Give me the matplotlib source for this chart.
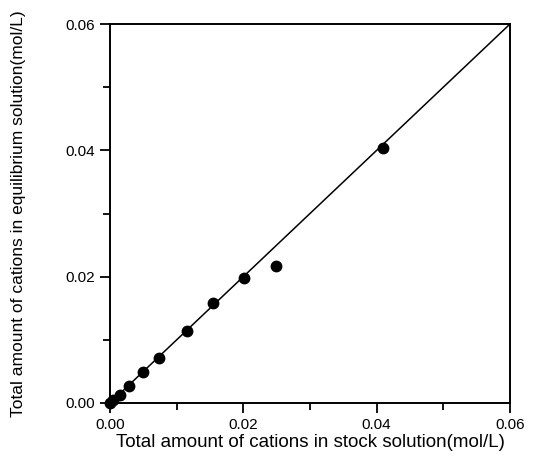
import numpy as np
import matplotlib
matplotlib.use('Agg')
import matplotlib.pyplot as plt
from matplotlib.ticker import MultipleLocator, FormatStrFormatter

# --- DATA ---
stock_conc = [0.0, 0.0005, 0.0015, 0.0028, 0.0050, 0.0074, 0.0116, 0.0155, 0.0201, 0.0249, 0.0410]
equil_conc = [0.0, 0.0005, 0.0013, 0.0027, 0.0049, 0.0072, 0.0114, 0.0159, 0.0198, 0.0217, 0.0403]
fit_x = [0.0, 0.06]
fit_y = [0.0, 0.06]

plt.rcParams['font.family'] = ['Liberation Sans', 'DejaVu Sans']

fig = plt.figure(figsize=(5.33, 4.62), dpi=100)
ax = fig.add_axes([110 / 533, 1 - 403 / 462, 400 / 533, 379 / 462])

ax.plot(fit_x, fit_y, color='black', linewidth=1.1, zorder=2)
ax.plot(stock_conc, equil_conc, 'o', color='black', markersize=7.5, zorder=3, clip_on=False)

ax.set_xlim(0, 0.06)
ax.set_ylim(0, 0.06)
ax.xaxis.set_major_locator(MultipleLocator(0.02))
ax.yaxis.set_major_locator(MultipleLocator(0.02))
ax.xaxis.set_minor_locator(MultipleLocator(0.01))
ax.yaxis.set_minor_locator(MultipleLocator(0.01))
ax.xaxis.set_major_formatter(FormatStrFormatter('%.2f'))
ax.yaxis.set_major_formatter(FormatStrFormatter('%.2f'))

ax.tick_params(which='major', direction='out', length=7, width=1.3, labelsize=11, pad=4)
ax.tick_params(which='minor', direction='out', length=5, width=1.3)
for s in ax.spines.values():
    s.set_linewidth(1.4)

ax.set_xlabel('Total amount of cations in stock solution(mol/L)', fontsize=13.5, labelpad=1)
ax.set_ylabel('Total amount of cations in equilibrium solution(mol/L)', fontsize=12.5, labelpad=28)

fig.savefig('out.png', dpi=100)
